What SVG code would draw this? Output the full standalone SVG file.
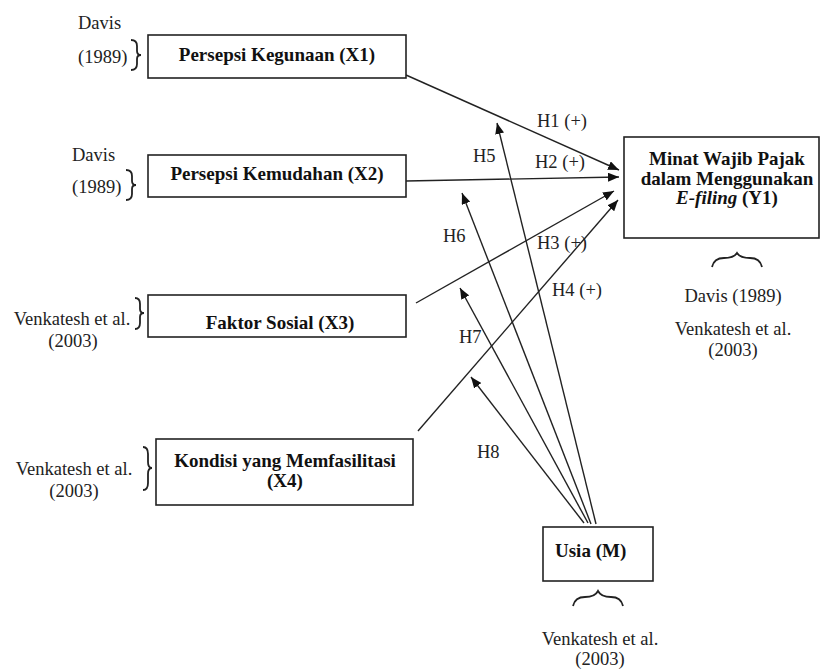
<svg xmlns="http://www.w3.org/2000/svg" width="821" height="670" viewBox="0 0 821 670">
<style>
.box{fill:#fff;stroke:#222;stroke-width:1.6}
.b{font-family:"Liberation Serif","Times New Roman",serif;font-weight:bold;font-size:19px;fill:#111}
.t{font-family:"Liberation Serif","Times New Roman",serif;font-size:18.5px;fill:#222}
.c{stroke:#222;stroke-width:1.4;fill:none}
.br{stroke:#222;stroke-width:1.8;fill:none}
</style>
<defs>
<marker id="ah" markerUnits="userSpaceOnUse" markerWidth="11" markerHeight="9" refX="11" refY="4.5" orient="auto">
<path d="M0,0 L11,4.5 L0,9 z" fill="#111"/>
</marker>
</defs>
<rect width="821" height="670" fill="#fff"/>
<g id="connectors">
<line class="c" x1="406" y1="75" x2="619" y2="170" marker-end="url(#ah)"/>
<line class="c" x1="406" y1="181" x2="619" y2="177" marker-end="url(#ah)"/>
<line class="c" x1="416" y1="303" x2="614" y2="191" marker-end="url(#ah)"/>
<line class="c" x1="418" y1="431" x2="618" y2="200" marker-end="url(#ah)"/>
<line class="c" x1="596" y1="524" x2="497" y2="123" marker-end="url(#ah)"/>
<line class="c" x1="591" y1="524" x2="462" y2="193" marker-end="url(#ah)"/>
<line class="c" x1="588" y1="523" x2="460" y2="288" marker-end="url(#ah)"/>
<line class="c" x1="584" y1="523" x2="471" y2="377" marker-end="url(#ah)"/>
<text class="t" x="537" y="127">H1 (+)</text>
<text class="t" x="535" y="168">H2 (+)</text>
<text class="t" x="537" y="249">H3 (+)</text>
<text class="t" x="552" y="296">H4 (+)</text>
<text class="t" x="473" y="162">H5</text>
<text class="t" x="443" y="242">H6</text>
<text class="t" x="459" y="343">H7</text>
<text class="t" x="477" y="458">H8</text>
</g>
<g id="x1">
<rect class="box" x="148" y="35" width="258" height="43"/>
<text class="b" x="277" y="61" text-anchor="middle">Persepsi Kegunaan (X1)</text>
<text class="t" x="78" y="29">Davis</text>
<text class="t" x="78" y="63">(1989)</text>
<path class="br" d="M131,40 Q137,40 137,46 L137,51 Q137,55 141,55 Q137,55 137,59 L137,64 Q137,70 131,70"/>
</g>
<g id="x2">
<rect class="box" x="148" y="155" width="258" height="42"/>
<text class="b" x="277" y="180" text-anchor="middle">Persepsi Kemudahan (X2)</text>
<text class="t" x="72" y="161">Davis</text>
<text class="t" x="72" y="193">(1989)</text>
<path class="br" d="M126,170 Q132,170 132,176 L132,181 Q132,185 136,185 Q132,185 132,189 L132,194 Q132,200 126,200"/>
</g>
<g id="x3">
<rect class="box" x="148" y="295" width="258" height="42"/>
<text class="b" x="280" y="329" text-anchor="middle">Faktor Sosial (X3)</text>
<text class="t" x="72" y="325" text-anchor="middle">Venkatesh et al.</text>
<text class="t" x="73" y="347" text-anchor="middle">(2003)</text>
<path class="br" d="M135,298 Q140,298 140,304 L140,309 Q140,313 144,313 Q140,313 140,317 L140,323 Q140,329 135,329"/>
</g>
<g id="x4">
<rect class="box" x="156" y="439" width="257" height="66"/>
<text class="b" x="285" y="467" text-anchor="middle">Kondisi yang Memfasilitasi</text>
<text class="b" x="285" y="487" text-anchor="middle">(X4)</text>
<text class="t" x="74" y="475" text-anchor="middle">Venkatesh et al.</text>
<text class="t" x="74" y="497" text-anchor="middle">(2003)</text>
<path class="br" d="M143,447 Q148,447 148,454 L148,462 Q148,468 152,468 Q148,468 148,474 L148,483 Q148,490 143,490"/>
</g>
<g id="y1">
<rect class="box" x="624" y="137" width="195" height="101"/>
<text class="b" x="727" y="165" text-anchor="middle">Minat Wajib Pajak</text>
<text class="b" x="727" y="184.5" text-anchor="middle">dalam Menggunakan</text>
<text class="b" x="727" y="204" text-anchor="middle"><tspan font-style="italic">E-filing</tspan> (Y1)</text>
<path class="br" d="M712,267 Q714,258 724,258 Q734,258 737,253 Q740,258 750,258 Q760,258 762,267"/>
<text class="t" x="733" y="302" text-anchor="middle">Davis (1989)</text>
<text class="t" x="733" y="335" text-anchor="middle">Venkatesh et al.</text>
<text class="t" x="733" y="356" text-anchor="middle">(2003)</text>
</g>
<g id="m">
<rect class="box" x="543" y="527" width="110" height="54"/>
<text class="b" x="555" y="557">Usia (M)</text>
<path class="br" d="M573,606 Q575,597 585,597 Q595,597 598,591 Q601,597 611,597 Q621,597 623,606"/>
<text class="t" x="600" y="645" text-anchor="middle">Venkatesh et al.</text>
<text class="t" x="600" y="665" text-anchor="middle">(2003)</text>
</g>
</svg>
